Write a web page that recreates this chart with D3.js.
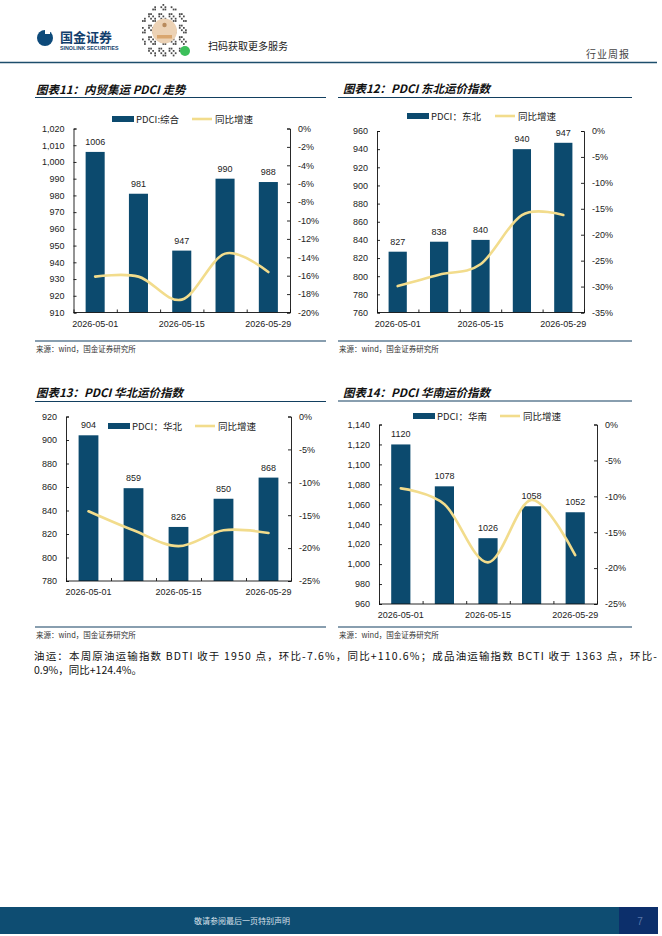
<!DOCTYPE html>
<html lang="zh">
<head>
<meta charset="utf-8">
<title>PDCI</title>
<script src="https://cdn.jsdelivr.net/npm/d3@7"></script>
<style>
  body { margin: 0; background: #fff; }
  svg { display: block; }
</style>
</head>
<body>
<script>
// categories (weekly)
const dates = ["2026-05-01", "2026-05-08", "2026-05-15", "2026-05-22", "2026-05-29"];
const shownDates = ["2026-05-01", "2026-05-15", "2026-05-29"];

// PDCI values + yoy (%)
const pdciAll = [1006, 981, 947, 990, 988];
const yoyAll = [-16.1, -16.1, -18.6, -13.6, -15.6];
const pdciNE = [827, 838, 840, 940, 947];
const yoyNE = [-29.9, -27.7, -25.7, -16.2, -16.2];
const pdciNC = [904, 859, 826, 850, 868];
const yoyNC = [-14.4, -17.3, -19.7, -17.3, -17.7];
const pdciSC = [1120, 1078, 1026, 1058, 1052];
const yoySC = [-8.9, -11.1, -19.2, -10.5, -18.2];

const BAR = "#0c4a6e", LINE = "#f2dc8c", RULE = "#123f60";
const CJK = "'Noto Sans CJK SC', sans-serif";
const SANS = "'Liberation Sans', Arial, sans-serif";

const W = 662, H = 936;
const svg = d3.select("body").append("svg").attr("width", W).attr("height", H);
svg.append("rect").attr("width", W).attr("height", H).attr("fill", "#fff");

// ---- header
const hd = svg.append("g");
hd.append("circle").attr("cx", 45).attr("cy", 38).attr("r", 8).attr("fill", "#0d4a7a");
hd.append("rect").attr("x", 45).attr("y", 28).attr("width", 5).attr("height", 6).attr("fill", "#fff");
hd.append("text").attr("x", 60).attr("y", 42).text("国金证券")
  .attr("font-family", CJK).attr("font-weight", 700).attr("font-size", 13).attr("fill", "#123e6c");
hd.append("text").attr("x", 60).attr("y", 50).text("SINOLINK SECURITIES")
  .attr("font-family", SANS).attr("font-weight", 700).attr("font-size", 5.3).attr("fill", "#123e6c");

// mini-program code (decorative)
const qr = hd.append("g").attr("transform", "translate(142,4)");
for (let i = 0; i < 22; i++) {
  for (let j = 0; j < 24; j++) {
    const dx = i - 10.5, dy = j - 11.5;
    if (dx * dx + dy * dy > 135) continue;
    if (((i * 7 + j * 13 + i * j) % 5) < 2) {
      qr.append("rect").attr("x", i * 2.05).attr("y", j * 2.3).attr("width", 1.7).attr("height", 1.8).attr("fill", "#4a4a4a");
    }
  }
}
qr.append("circle").attr("cx", 22.5).attr("cy", 27).attr("r", 12.5).attr("fill", "#ecd2b5");
qr.append("circle").attr("cx", 22.5).attr("cy", 21).attr("r", 2.2).attr("fill", "#b88a5c");
qr.append("rect").attr("x", 15).attr("y", 31).attr("width", 15).attr("height", 3.5).attr("fill", "#d9a66f");
qr.append("circle").attr("cx", 43).attr("cy", 47).attr("r", 5).attr("fill", "#3cbf5a");
hd.append("text").attr("x", 208).attr("y", 50).text("扫码获取更多服务")
  .attr("font-family", CJK).attr("font-size", 10).attr("fill", "#222");
hd.append("text").attr("x", 586).attr("y", 58).text("行业周报")
  .attr("font-family", CJK).attr("font-size", 10).attr("fill", "#444").attr("letter-spacing", 1);
hd.append("line").attr("x1", 0).attr("x2", 657).attr("y1", 62.5).attr("y2", 62.5)
  .attr("stroke", "#1d4e6c").attr("stroke-width", 1.3);

// ---- charts
const charts = [
  { title: "图表11：内贸集运 PDCI 走势", tx: 36, ty: 94, rule: [35, 326], ruleY: 97.5, srcY: 341,
    x0: 73.5, x1: 290, y0: 128.5, y1: 312.5, ld: [910, 1020, 10], rd: [-20, 0, 2], comma: true,
    bars: pdciAll, yoy: yoyAll, name: "PDCI:综合", lgX: 112, lgY: 119, lgLX: 192 },
  { title: "图表12：PDCI 东北运价指数", tx: 343, ty: 93, rule: [338, 632], ruleY: 97.5, srcY: 341,
    x0: 377, x1: 584, y0: 131, y1: 312.5, ld: [760, 960, 20], rd: [-35, 0, 5], comma: false,
    bars: pdciNE, yoy: yoyNE, name: "PDCI：东北", lgX: 407, lgY: 116, lgLX: 495 },
  { title: "图表13：PDCI 华北运价指数", tx: 36, ty: 397, rule: [35, 326], ruleY: 401.5, srcY: 627,
    x0: 66, x1: 291, y0: 416.5, y1: 581, ld: [780, 920, 20], rd: [-25, 0, 5], comma: false,
    bars: pdciNC, yoy: yoyNC, name: "PDCI：华北", lgX: 108, lgY: 426, lgLX: 195 },
  { title: "图表14：PDCI 华南运价指数", tx: 343, ty: 397, rule: [338, 632], ruleY: 401, srcY: 627,
    x0: 379, x1: 597, y0: 424.5, y1: 604, ld: [960, 1140, 20], rd: [-25, 0, 5], comma: true,
    bars: pdciSC, yoy: yoySC, name: "PDCI：华南", lgX: 413, lgY: 416, lgLX: 500 }
];

charts.forEach(drawChart);

function drawChart(c) {
  const g = svg.append("g");

  // title + rules
  g.append("text").attr("x", c.tx).attr("y", c.ty).text(c.title)
    .attr("font-family", CJK).attr("font-weight", 700).attr("font-style", "italic")
    .attr("font-size", 11.5).attr("fill", "#111");
  g.append("line").attr("x1", c.rule[0]).attr("x2", c.rule[1]).attr("y1", c.ruleY).attr("y2", c.ruleY)
    .attr("stroke", RULE).attr("stroke-width", 1.2);
  g.append("line").attr("x1", c.rule[0]).attr("x2", c.rule[1]).attr("y1", c.srcY).attr("y2", c.srcY)
    .attr("stroke", RULE).attr("stroke-width", 1.2);
  g.append("text").attr("x", c.rule[0] + 1).attr("y", c.srcY + 11).text("来源：wind，国金证券研究所")
    .attr("font-family", CJK).attr("font-size", 7.5).attr("fill", "#333");

  const x = d3.scaleBand().domain(dates).range([c.x0, c.x1]).paddingInner(0.56).paddingOuter(0.28);
  const yL = d3.scaleLinear().domain([c.ld[0], c.ld[1]]).range([c.y1, c.y0]);
  const yR = d3.scaleLinear().domain([c.rd[0], c.rd[1]]).range([c.y1, c.y0]);

  const leftTicks = d3.range(c.ld[0], c.ld[1] + 0.001, c.ld[2]);
  const rightTicks = d3.range(c.rd[0], c.rd[1] + 0.001, c.rd[2]);
  const fmtL = c.comma ? d3.format(",") : d3.format("d");

  // bars
  g.append("g").selectAll("rect").data(c.bars).join("rect")
    .attr("x", (d, i) => x(dates[i]))
    .attr("y", d => yL(d))
    .attr("width", x.bandwidth())
    .attr("height", d => c.y1 - yL(d))
    .attr("fill", BAR);

  g.append("g").selectAll("text").data(c.bars).join("text")
    .attr("x", (d, i) => x(dates[i]) + x.bandwidth() / 2)
    .attr("y", d => yL(d) - 7)
    .attr("text-anchor", "middle")
    .attr("font-family", SANS).attr("font-size", 9).attr("fill", "#222")
    .text(d => d);

  // yoy line
  const line = d3.line()
    .x((d, i) => x(dates[i]) + x.bandwidth() / 2)
    .y(d => yR(d))
    .curve(d3.curveCatmullRom.alpha(0));
  g.append("path").attr("d", line(c.yoy)).attr("fill", "none")
    .attr("stroke", LINE).attr("stroke-width", 2.6).attr("stroke-linecap", "round");

  // axes
  const axL = g.append("g").attr("transform", `translate(${c.x0},0)`)
    .call(d3.axisRight(yL).tickValues(leftTicks).tickSize(3).tickFormat(""));
  const axR = g.append("g").attr("transform", `translate(${c.x1},0)`)
    .call(d3.axisLeft(yR).tickValues(rightTicks).tickSize(3).tickFormat(""));
  const bounds = d3.range(0, dates.length + 1).map(i => c.x0 + i * x.step());
  const xs = d3.scaleLinear().domain([c.x0, c.x1]).range([c.x0, c.x1]);
  const axB = g.append("g").attr("transform", `translate(0,${c.y1})`)
    .call(d3.axisTop(xs).tickValues(bounds).tickSize(3).tickFormat(""));
  [axL, axR, axB].forEach(a => {
    a.selectAll("path, line").attr("stroke", "#111").attr("stroke-width", 0.9);
  });
  axB.select(".domain").attr("d", `M${c.x0},0H${c.x1}`);

  g.append("g").selectAll("text").data(leftTicks).join("text")
    .attr("x", c.x0 - 9).attr("y", d => yL(d) + 3.3)
    .attr("text-anchor", "end")
    .attr("font-family", SANS).attr("font-size", 9).attr("fill", "#222")
    .text(fmtL);
  g.append("g").selectAll("text").data(rightTicks).join("text")
    .attr("x", c.x1 + 8).attr("y", d => yR(d) + 3.3)
    .attr("font-family", SANS).attr("font-size", 9).attr("fill", "#222")
    .text(d => String(Math.round(d)) + "%");
  g.append("g").selectAll("text").data(shownDates).join("text")
    .attr("x", d => x(d) + x.bandwidth() / 2).attr("y", c.y1 + 14)
    .attr("text-anchor", "middle")
    .attr("font-family", SANS).attr("font-size", 9).attr("fill", "#222")
    .text(d => d);

  // legend
  g.append("rect").attr("x", c.lgX).attr("y", c.lgY - 3).attr("width", 22).attr("height", 6).attr("fill", BAR);
  g.append("text").attr("x", c.lgX + 24).attr("y", c.lgY + 3.5).text(c.name)
    .attr("font-family", CJK).attr("font-size", 9.5).attr("fill", "#222");
  g.append("line").attr("x1", c.lgLX).attr("x2", c.lgLX + 20).attr("y1", c.lgY).attr("y2", c.lgY)
    .attr("stroke", LINE).attr("stroke-width", 2.6);
  g.append("text").attr("x", c.lgLX + 23).attr("y", c.lgY + 3.5).text("同比增速")
    .attr("font-family", CJK).attr("font-size", 9.5).attr("fill", "#222");
}

// ---- paragraph
svg.append("text").attr("x", 34).attr("y", 660)
  .attr("font-family", CJK).attr("font-size", 10.5).attr("fill", "#111")
  .attr("textLength", 623).attr("lengthAdjust", "spacing")
  .text("油运：本周原油运输指数 BDTI 收于 1950 点，环比-7.6%，同比+110.6%；成品油运输指数 BCTI 收于 1363 点，环比-");
svg.append("text").attr("x", 34).attr("y", 674)
  .attr("font-family", CJK).attr("font-size", 10.5).attr("fill", "#111")
  .text("0.9%，同比+124.4%。");

// ---- footer
svg.append("rect").attr("x", 0).attr("y", 907).attr("width", 619).attr("height", 27).attr("fill", "#0e4d72");
svg.append("rect").attr("x", 619).attr("y", 907).attr("width", 39).attr("height", 27).attr("fill", "#0c2f6b");
svg.append("text").attr("x", 242).attr("y", 923.5).attr("text-anchor", "middle")
  .attr("font-family", CJK).attr("font-size", 8).attr("fill", "#d7e0ea")
  .text("敬请参阅最后一页特别声明");
svg.append("text").attr("x", 640).attr("y", 925).attr("text-anchor", "middle")
  .attr("font-family", SANS).attr("font-size", 10).attr("fill", "#5876a8")
  .text("7");
</script>
</body>
</html>
